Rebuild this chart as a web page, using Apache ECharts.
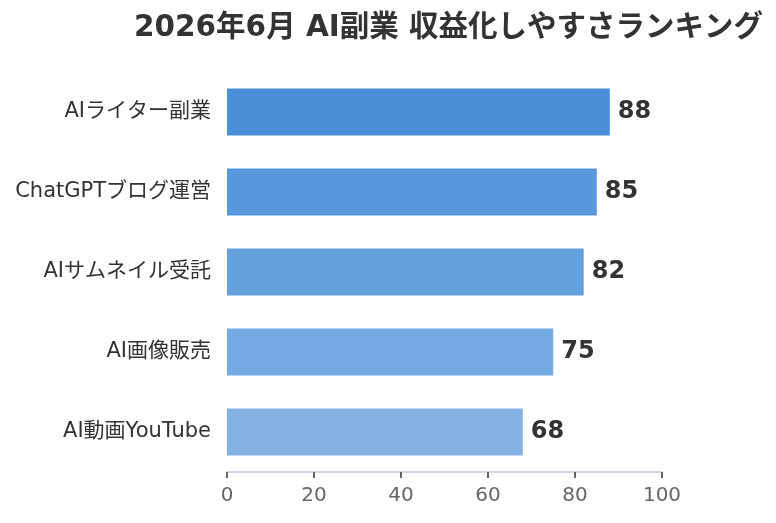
<!DOCTYPE html>
<html><head><meta charset="utf-8">
<script src="https://cdn.jsdelivr.net/npm/echarts@6/dist/echarts.min.js"></script>
<style>html,body{margin:0;padding:0;background:#fff}#c{width:776px;height:523px}</style>
</head><body><div id="c"></div>
<script>
const categories = ['AIライター副業','ChatGPTブログ運営','AIサムネイル受託','AI画像販売','AI動画YouTube'];
const values = [88, 85, 82, 75, 68];
const barColors = ['#4A90D9','#5899DC','#65A1DE','#74AAE1','#83B3E4'];
const xTicks = [0, 20, 40, 60, 80, 100];
const titleText = '2026年6月 AI副業 収益化しやすさランキング';
const FONT = '"DejaVu Sans", "Noto Sans CJK JP", sans-serif';
const chart = echarts.init(document.getElementById('c'));
chart.setOption({
  animation: false,
  textStyle: {fontFamily: FONT},
  title: {text: titleText, left: 129, top: 9, textStyle: {fontFamily: FONT, fontSize: 29.5, fontWeight: 'bold', color: '#333'}},
  grid: {left: 227, right: 114, top: 72, bottom: 51, containLabel: false},
  xAxis: {type: 'value', min: xTicks[0], max: xTicks[xTicks.length-1], interval: 20,
    splitLine: {show: false},
    axisLine: {show: true, lineStyle: {color: '#D3D7E3', width: 2}},
    axisTick: {show: true, length: 6, lineStyle: {color: '#666', width: 2}},
    axisLabel: {fontSize: 20, color: '#666', margin: 14, fontFamily: FONT}},
  yAxis: {type: 'category', data: categories, inverse: true,
    axisLine: {show: false}, axisTick: {show: false},
    axisLabel: {fontSize: 21, color: '#333', margin: 16, fontFamily: FONT}},
  series: [{type: 'bar', barWidth: 47,
    data: values.map((v, i) => ({value: v, itemStyle: {color: barColors[i]}})),
    label: {show: true, position: 'right', distance: 8, fontSize: 24, fontWeight: 'bold', color: '#333', fontFamily: FONT}}]
});
</script></body></html>
